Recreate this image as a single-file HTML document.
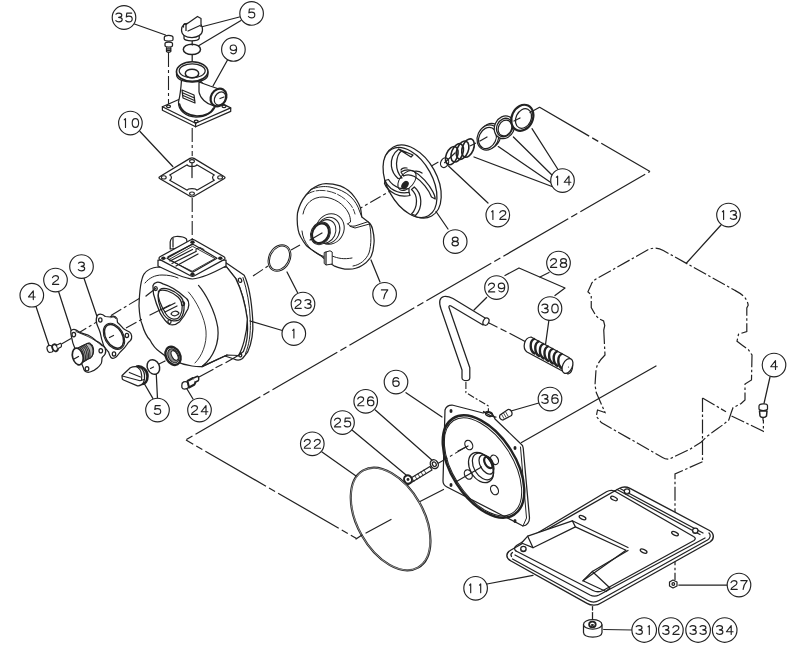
<!DOCTYPE html>
<html><head><meta charset="utf-8"><style>
html,body{margin:0;padding:0;background:#fff;width:800px;height:650px;overflow:hidden;font-family:"Liberation Sans",sans-serif}
svg{display:block}
.s{fill:none;stroke:#222;stroke-width:1.25;stroke-linejoin:round;stroke-linecap:round}
.w{fill:#fff;stroke:#222;stroke-width:1.25;stroke-linejoin:round}
.k{fill:#222;stroke:none}
.dd2{fill:none;stroke:#222;stroke-width:1.1;stroke-dasharray:14 3 3 3}
.dd3{fill:none;stroke:#222;stroke-width:1.1;stroke-dasharray:12 3 3 3}
.dd4{fill:none;stroke:#222;stroke-width:1.2;stroke-dasharray:14 2.5 2.5 2.5}
.dd5{fill:none;stroke:#222;stroke-width:1.1;stroke-dasharray:7 2 2 2}
.dd{fill:none;stroke:#222;stroke-width:1.1;stroke-dasharray:66 4 7 4}
.dg{fill:none;stroke:#222;stroke-width:1.15;vector-effect:non-scaling-stroke;stroke-linecap:round;stroke-linejoin:round}
.c{fill:#fff;stroke:#222;stroke-width:1.15}
</style></head><body>
<svg width="800" height="650" viewBox="0 0 800 650">
<path d="M134.5,24 L165.5,35" class="s"/>
<path d="M239.4,17 L201,27" class="s"/>
<path d="M241,20.5 L199,45.5" class="s"/>
<path d="M227.5,60 L213,86" class="s"/>
<path d="M140,131.5 L172.8,166.5" class="s"/>
<path d="M168.5,53 L168.5,104" class="dd2"/>
<path d="M192.2,41 L192.2,45" class="s"/>
<path d="M192.2,55 L192.2,62" class="s"/>
<path d="M192.2,128 L192.2,156" class="dd2"/>
<path d="M192.2,198 L192.2,240" class="dd2"/>
<path d="M164.3,37.5 C164.3,34.5 173,34.5 173,37.5 L173,39.5 C173,41.5 164.3,41.5 164.3,39.5 Z" class="w" />
<path d="M165,43.5 C165,41.5 172.5,41.5 172.5,43.5 L172.5,45.5 C172.5,47.5 165,47.5 165,45.5 Z" class="w" />
<path d="M166.5,47.5 L166.5,51.5 Q168.6,53 170.8,51.5 L170.8,47.5" class="s" />
<path d="M166.8,48.8 L170.6,48.8" class="s"/>
<path d="M166.8,50.3 L170.6,50.3" class="s"/>
<path d="M184,35 L184,38.5 C185,41.5 198,41.5 199.2,38.5 L199.2,35" class="w" />
<path d="M181.5,30 C181.5,24.5 186,23 190,23 L197,23 C201,23 202.5,26 202.5,30 C202.5,35 197,37.5 192,37.5 C186,37.5 181.5,35 181.5,30 Z" class="w" />
<path d="M186,31 L186,24.5 L197.5,16.5 L201,18.5 L201,27" class="w" />
<path d="M186,24.5 C185,22.5 183,24 183.5,27" class="s" />
<path d="M188,31 L200,25.5" class="s"/>
<path d="M191.9,44.2 m-8.6,5.2 a8.6,5.2 0 1,0 17.2,0 a8.6,5.2 0 1,0 -17.2,0" class="s" style="stroke-width:1.5"/>
<path d="M162.4,106.7 L195.6,123.3 L230.7,107.9 L197.5,91.3 Z" class="w" />
<path d="M162.4,106.7 L162.4,110.2 L195.6,126.8 L230.7,111.4 L230.7,107.9" class="s" />
<path d="M195.6,123.3 L195.6,126.8" class="s"/>
<ellipse cx="168.5" cy="106.3" rx="2" ry="1.3" class="s"/>
<ellipse cx="196.2" cy="121.3" rx="2" ry="1.3" class="s"/>
<ellipse cx="224" cy="106.3" rx="2" ry="1.3" class="s"/>
<path d="M181.5,80 C181,88 180,96 178.5,102 C178,110 186,117 196,117 C206,117 213,112 215,107 L214,96 L199.5,80 Z" class="w" />
<path d="M179.5,104 C181,112 190,116 197,116 C205,116 211,113 213.5,108" class="s" style="stroke-width:1.6"/>
<path d="M199,82 L210,86 L222,90 L214,106 C206,104 200,98 199,92 Z" class="w" />
<ellipse cx="218.5" cy="97.5" rx="7.5" ry="9.2" transform="rotate(30 218.5 97.5)" class="w" style="stroke-width:2.2"/>
<ellipse cx="220" cy="98.5" rx="5.2" ry="7" transform="rotate(30 220 98.5)" class="w"/>
<path d="M220,98.5 L224,97" class="s"/>
<path d="M182,90 L194,95 L195,103 L183,98 Z" class="w" />
<path d="M183,93 L194.5,98" class="s"/>
<path d="M183,95.5 L194.5,100.5" class="s"/>
<path d="M176.5,71.6 L176.5,74.5 C176.5,80 185,82 192.2,82 C199,82 207.9,80 207.9,74.5 L207.9,71.6" class="w" />
<ellipse cx="192.2" cy="71.6" rx="15.7" ry="9.8" class="w" style="stroke-width:1.6"/>
<ellipse cx="192.2" cy="70.8" rx="13" ry="7" class="s"/>
<ellipse cx="192" cy="73.5" rx="6.7" ry="4.3" class="s" style="stroke-width:1.5"/>
<path d="M160,176.5 L190,158.4 Q192,157.2 194,158.4 L224,176.5 Q226,177.6 224,178.7 L194,196.2 Q192,197.4 190,196.2 L160,178.7 Q158,177.6 160,176.5 Z" class="w" style="stroke-width:1.3"/>
<path d="M169.7,175 L187.2,164.8 C188,167 196,167 196.8,164.8 L214.3,175 C212,176 212,179 214.3,180.3 L196.8,190.2 C196,188 188,188 187.2,190.2 L169.7,180.3 C172,179 172,176 169.7,175 Z" class="s" style="stroke-width:1.2"/>
<ellipse cx="163.8" cy="177.4" rx="2.4" ry="1.6" class="s" style="stroke-width:1.1"/>
<ellipse cx="192" cy="161.2" rx="2.4" ry="1.6" class="s" style="stroke-width:1.1"/>
<ellipse cx="220.1" cy="177.4" rx="2.4" ry="1.6" class="s" style="stroke-width:1.1"/>
<ellipse cx="192" cy="193.6" rx="2.4" ry="1.6" class="s" style="stroke-width:1.1"/>
<path d="M192,163 L192,177.5" class="s"/>
<path d="M225.6,262.5 L244.2,275.2 C248,283 251.5,300 252.7,319.2 C253.5,332 251,345 247.6,352.2 L242.5,358.5 C240,360.5 237,360.5 234,359 L222,355 Z" class="w" />
<path d="M243,277.5 C247,290 249.8,305 250.3,320 C250.8,335 249,345 245.5,353.5" class="s" style="stroke-width:1"/>
<path d="M226.5,266.8 L235.8,278.6 C240,287 245,302 247.3,319.2 C248.3,333 246.5,345 243.4,351.4 L238.5,355.5" class="s" />
<ellipse cx="240" cy="280.3" rx="1.6" ry="2.2" transform="rotate(-20 240 280.3)" class="s"/>
<ellipse cx="240" cy="354.8" rx="1.6" ry="2.2" transform="rotate(-20 240 354.8)" class="s"/>
<path d="M158,267 C152,267.5 147,270 144,274 C141,279 139.5,290 139,306 C139.5,315 140,320 142,324 C144,331 146,336 150,340 C153,346 157,350 160,352 C168,359 180,364 192,366 C197,366.8 200,366.8 202,366.6 L227,355 L238.5,355.5 C242,350 247,335 247.3,319.2 C245,302 240,287 235.8,278.6 L226.5,266.8 Z" class="w" />
<path d="M198.5,285.4 C205,293 215,310 217.8,327.7 C219.5,342 214,357 202,366.6" class="s" />
<path d="M188.4,292 C196,300 205,318 206,331 C207,344 202,356 195,363" class="s" style="stroke-width:0.9"/>
<path d="M145,283 C149,278 155,275 162,275 C168,275 174,276 178,278" class="s" style="stroke-width:1"/>
<path d="M202,366.6 L227,355" class="s"/>
<path d="M170.2,249 L170.2,242 C170.5,238.5 173,236.8 176,236.5 C180,236.3 184,237 186.5,239 L188,247 Z" class="w" />
<path d="M173,238.5 L173,247" class="s"/>
<path d="M158,260 L158,266 C170,272 182,278 192.5,279 C203,278 215,272 226,266 L226,260 Z" class="w" />
<path d="M160,256.8 L190.5,240 Q192.5,239 194.5,240 L224,256.8 Q226,258.2 224,259.6 L194.5,275.8 Q192.5,276.8 190.5,275.8 L160,259.6 Q158,258.2 160,256.8 Z" class="w" />
<path d="M167,258.2 L191,244.8 Q192.5,243.8 194,244.8 L217,258.2 L194,271.5 Q192.5,272.5 191,271.5 Z" class="s" />
<path d="M169,259.5 L192.5,246.3 L215,258.5 L192.5,271 Z" class="s" style="stroke-width:0.9"/>
<path d="M168,256.7 L192,244.5" class="s"/>
<path d="M170,261 L192.5,249.5" class="s"/>
<path d="M172,263.5 L196,251.5" class="s"/>
<path d="M176,266 L198,254" class="s"/>
<path d="M196,251.5 L196,249 L200,247.5 L204,249.5" class="s" style="stroke-width:1"/>
<ellipse cx="163.4" cy="258.2" rx="2.2" ry="1.7" class="k"/>
<ellipse cx="192.5" cy="242.3" rx="2.2" ry="1.7" class="k"/>
<ellipse cx="220.3" cy="258.2" rx="2.2" ry="1.7" class="k"/>
<ellipse cx="192.5" cy="274.2" rx="2.2" ry="1.7" class="k"/>
<path d="M152.9,285.7 C154,282 158.5,281 163,283.9 C170,286 178,291 184.3,296.8 C188,299 190,303 188,308.8 C186,313 184,317 179.7,321.7 C177,324 174,326 169.5,324.5 C166,322 163,318 160.3,313.4 C157,306 155,300 153.5,294 Z" class="w" />
<path d="M158.5,291.2 C163,288 172,292 178,297 C183,302 183.5,310 180,316 C177,321 170,320 166,314 C161,306 157,298 158.5,291.2 Z" class="s" />
<path d="M160,289.5 C164,286.5 174,290 180,296 C185,301 185.5,311 181,318 C178,322.5 169,322 164,315 C159,307 156,296 160,289.5 Z" class="s" />
<ellipse cx="155.7" cy="288.5" rx="1.6" ry="2" class="s"/>
<ellipse cx="183" cy="303.7" rx="1.6" ry="2" class="s"/>
<ellipse cx="169.5" cy="321.5" rx="1.6" ry="2" class="s"/>
<path d="M163,309 L175,303 M165,312 L177,306" class="s" />
<path d="M171,314 C172,311 177,310 179,313 C178,316 173,317 171,314 Z" class="s" />
<ellipse cx="173" cy="355.8" rx="7" ry="9.6" transform="rotate(-28 173 355.8)" class="w" style="stroke-width:2.4"/>
<ellipse cx="173.3" cy="355.8" rx="5" ry="7.4" transform="rotate(-28 173.3 355.8)" style="fill:#8a8a8a;stroke:#222;stroke-width:1"/>
<ellipse cx="174.6" cy="355.5" rx="2.8" ry="5.2" transform="rotate(-28 174.6 355.5)" class="w" style="stroke-width:1"/>
<path d="M36,306.5 L49,345.5" class="s"/>
<path d="M58.8,292.3 L72,333" class="s"/>
<path d="M84,278.3 L97,316.5" class="s"/>
<path d="M61.5,344 L71,338.5" class="dd3"/>
<path d="M76,334.5 L100,320" class="dd3"/>
<path d="M111,315.5 L140,298" class="dd3"/>
<path d="M126,328 L144,318" class="dd3"/>
<path d="M150,315 L170,305" class="s"/>
<path d="M146,296 L155.7,288.5" class="s"/>
<path d="M97,316.3 C98,313.5 102,313.5 105.3,316.5 L110,317 C111.5,315.5 115,315.5 117,318.5 L117.5,322.5 C119.5,324 121.5,326.5 123.6,328.8 C126,330.5 127.5,331 129.5,332 C132,334 132.5,338 130.5,340.5 C128.5,342 127.5,343 126.9,344.5 C125.5,347 123,349.5 121,351.2 C119,353 118,355.5 116,357 C114,358.5 112,358.5 111,357.5 C109.5,355.5 109,353.5 108.6,352 C106.5,349.5 104.5,347.5 103.6,345.4 C102,341 101,337 100.3,333 C99.5,330 98,327 97,324.6 C96,321.5 96,318.5 97,316.3 Z" class="w" />
<ellipse cx="114" cy="336.3" rx="9.4" ry="14" transform="rotate(-30 114 336.3)" class="s" style="stroke-width:1.1"/>
<ellipse cx="114" cy="336.3" rx="8.2" ry="12.8" transform="rotate(-30 114 336.3)" class="s" style="stroke-width:1.5"/>
<ellipse cx="100.3" cy="320" rx="1.7" ry="2.1" class="s"/>
<ellipse cx="126.9" cy="335.4" rx="1.7" ry="2.1" class="s"/>
<ellipse cx="114" cy="354" rx="1.7" ry="2.1" class="s"/>
<path d="M111,317.5 C112,316.5 114.5,316.5 115.5,318.5" class="s" style="stroke-width:1"/>
<path d="M109.5,337.5 L113.5,335.5" class="s"/>
<path d="M70.8,331.2 C72,329.5 73.5,329.2 75,329.6 C77.5,330.5 79,332 80.4,332.7 C83,333.8 86,334.5 88,335 C91,336.5 93.5,338.5 95.8,340.4 C98,342 100,343 101.2,344.2 C103,345.5 104.5,347 105,348 C106,350.5 106,352.5 105,354.2 C104,356 102.5,356.5 102,358 C101.8,360 102,362 101.2,363.5 C100,365.5 98.5,367 97.3,368 C95.5,369.5 93.5,370.8 92,371.2 C90,372.2 88,372.5 86.5,372 C84.5,371 83.5,369.5 83.5,368 L74.2,346.5 C73,344 72.5,342 72.2,340 C71.5,337 70.5,334 70.8,331.2 Z" class="w" />
<path d="M76,331.5 C80,333 84,335 88,336.5 C93,339 98,342 102,346" class="s" style="stroke-width:0.9"/>
<ellipse cx="73.8" cy="334.6" rx="1.8" ry="2.2" class="s"/>
<ellipse cx="100.8" cy="350.8" rx="1.8" ry="2.2" class="s"/>
<ellipse cx="87" cy="368.8" rx="1.8" ry="2.2" class="s"/>
<path d="M77.8,348 L87.7,343.3 C91,343.5 93.2,347 93.2,351 C93.2,355.5 91,358.6 88,358.8 L78,365 Z" class="w" style="fill:#bbb"/>
<path d="M80,347 L89,342.8 C92.5,343.5 94,348 93.5,352 C93,356 91,358.5 88.5,359 L80,364" class="s" style="stroke-width:1"/>
<path d="M79.5,347.5 C82,349 84.5,354 84,360.5 M81,346.8 C83.5,348.5 86,353.5 85.5,360 M82.5,346 C85,347.8 87.5,352.5 87,359.3 M84,345.3 C86.5,347 89,351.5 88.5,358.5 M85.5,344.6 C88,346.3 90.5,350.5 90,357.8" class="s" style="stroke-width:1.1;stroke:#333"/>
<ellipse cx="77.8" cy="356.5" rx="5.2" ry="8.5" transform="rotate(-15 77.8 356.5)" class="w" style="stroke-width:1.7"/>
<path d="M74,359 L78.5,356.5" class="s"/>
<path d="M47,348.5 C46.5,346.5 48.5,345 50.5,345.5 L52.5,346.5 C53.5,348.5 53.5,351 52,352 L49.5,352.5 C48,352 47.3,350.5 47,348.5 Z" class="w" />
<ellipse cx="55" cy="347.8" rx="2.6" ry="3.6" transform="rotate(-25 55 347.8)" class="w" style="stroke-width:1.8"/>
<path d="M57,345 L60.5,343.3 C61.5,343.8 61.8,346 61,347 L57.8,348.8" class="w" style="stroke-width:1.2"/>
<path d="M153,398.6 L144.5,384" class="s"/>
<path d="M157.5,398.6 L156.3,374.5" class="s"/>
<path d="M193,399 L187,389" class="s"/>
<ellipse cx="153.4" cy="367" rx="6" ry="7.6" transform="rotate(-25 153.4 367)" class="s" style="stroke-width:1.5"/>
<path d="M150.5,368.5 L153.5,367" class="s"/>
<path d="M159,364 L165,361" class="s"/>
<path d="M137,366.5 C142,365.5 147.5,370 147.5,376 C147.5,381 145,384 142,384 Z" class="w" style="stroke-width:2.6"/>
<path d="M122.1,375.5 L130.3,367.8 C133,366.5 137,366.5 140,367.5 C143.5,369.5 145,374 144.5,379 L143.5,382.7 C142,385 139.5,386 137.5,385.8 L123.5,380 C122.3,379.5 122,378.5 122.1,377.5 Z" class="w" />
<path d="M122.3,376 L140,380.8 L144.2,379.5 M129.3,372.4 L140.5,377 M137,366.8 C141,369.5 142.5,374 141.5,380.5" class="s" style="stroke-width:1.1"/>
<path d="M181.8,385.5 C181.5,382 185,380.5 188,382.5 L188.7,386.5 C188.3,389.3 183,390 181.9,387.5 Z" class="w" />
<path d="M187.5,381 L193,378 C195.5,378 196,382.5 194.5,384.5 L189,387.5 Z" class="w" style="stroke-width:2"/>
<path d="M193.5,378 L197.5,376.3 C199,376.5 199,380 198.2,380.8 L194.5,382.5" class="w" style="stroke-width:1.5"/>
<path d="M199,377 L213,369.5" class="s"/>
<path d="M216,367.5 L222,364.5" class="s"/>
<path d="M226,362.5 L240,354.5" class="s"/>
<path d="M253,276 L268,266" class="dd3"/>
<path d="M291,250 L300,245" class="dd3"/>
<path d="M352,213 L392,190" class="dd3"/>
<path d="M428,168 L440,161" class="dd3"/>
<path d="M470,146 L476,143" class="dd3"/>
<ellipse cx="279.5" cy="258" rx="10.6" ry="14" transform="rotate(28 279.5 258)" class="s" style="stroke-width:1"/>
<ellipse cx="279.5" cy="258" rx="9.2" ry="12.6" transform="rotate(28 279.5 258)" class="s" style="stroke-width:1"/>
<path d="M287,272 L297.5,292.5" class="s"/>
<path d="M311,189.5 C317,185 322,183.5 326,183.5 C331,183.5 336,184.5 340.2,185.8 C347,188.5 352,193 354.9,197.5 C358,202 360,206 360.7,209.2 L361.8,217 L368,221.7 C371,224 372,226 372.5,229 C374,235 374.5,240 373.9,244 C373.5,250 372.5,254 370.5,257.5 C368,261 366,263.5 362,265.5 C358,268 354,269.2 349,269.2 C343,269.5 338,267.5 334,265.8 C330,263.5 326,260 321.2,256 C315,252 310,249 306.6,245.8 C302,240 299,235 298.2,230 C297,224 297,218 297.5,213 C299,206 302,200 306,195 Z" class="w" />
<path d="M311,189.5 C318,186.5 324,186 330,187 C338,188.5 346,192 351,197 C355,201 358,206 359.5,211 L361.8,217" class="s" style="stroke-width:1"/>
<path d="M306,195 C311,191.5 317,190 323,190.5 C333,191 343,196 349,203 C352,206 354,210 355,214" class="s" style="stroke-width:0.9" stroke-dasharray="9 2"/>
<path d="M303,214 C305,203 313,197 323,197 C334,197.5 344,204 348.5,213 C350,216 350.5,219 350.5,222 L347.6,223.9" class="s" style="stroke-width:1"/>
<path d="M302,231 C303,243 312,253 324,256.5" class="s" style="stroke-width:1"/>
<path d="M347.6,223.9 C349,226 352,226.5 355,226 L368,221.7 M350,226.3 L355,228 L369.5,224" class="s" style="stroke-width:1"/>
<path d="M369.5,224 C371.5,233 371.5,245 369,253 C366,260 360,265 353,266" class="s" style="stroke-width:1"/>
<path d="M332.2,256 C338,258.5 344,259.5 352,258" class="s" style="stroke-width:1"/>
<path d="M324.2,252.5 L330,250.8 L332.2,252 L332.2,264 L326,265 L324.2,263.5 Z" class="w" style="stroke-width:1"/>
<path d="M326,252 L326,264.5" class="s"/>
<ellipse cx="330" cy="229" rx="13.9" ry="15.6" transform="rotate(25 330 229)" class="s" style="stroke-width:1"/>
<ellipse cx="328" cy="230.5" rx="11.5" ry="13.5" transform="rotate(25 328 230.5)" class="s" style="stroke-width:1"/>
<ellipse cx="325.5" cy="231.5" rx="10" ry="12.2" transform="rotate(25 325.5 231.5)" class="w" style="stroke-width:1"/>
<ellipse cx="320.5" cy="233.3" rx="9.5" ry="11.7" transform="rotate(25 320.5 233.3)" class="w" style="stroke-width:1"/>
<ellipse cx="320.5" cy="233.3" rx="8.1" ry="10.2" transform="rotate(25 320.5 233.3)" class="s" style="stroke-width:2.2"/>
<path d="M310,240 L322,233" class="s"/>
<path d="M371,260 L380,282" class="s"/>
<path d="M250,321 L282.3,330.5" class="s"/>
<ellipse cx="412.5" cy="181.5" rx="39.5" ry="24.5" transform="rotate(61 412.5 181.5)" class="w"/>
<ellipse cx="410" cy="182.5" rx="38" ry="22.5" transform="rotate(61 410 182.5)" class="w"/>
<path d="M398.6,149.2 C393,153 390.5,160 391.4,166.2 C392,171 394,175 398,178.5 L402,178 C398,174 396.5,169 396.5,163.5 C397,157 399,152.5 401.5,151 Z" class="w" />
<path d="M398.6,149.2 L413,155 L411,157 L401.5,151" class="s" />
<path d="M401,172 C405,169.5 410,169.5 414,171.5 C421,175 429,184 433,192 C434.5,195 435.3,197.5 435.2,199 L431.5,197 C429,190 422,181 414.5,176.5 C410.5,174.5 406.5,174.5 403.5,176 Z" class="w" />
<path d="M409,192.4 C403,193.5 396,192 391,188.5 C388,186 386,183.5 385,180.5 L388.5,179.5 C390.5,183 394.5,186 398.5,187.8 C402.5,189 406,189 409,188.5 Z" class="w" />
<path d="M385,180.5 L384.5,183.5 C386,187.5 390,191.5 395,194 C400,196.5 406,196.5 410,195.5 L409,192.4" class="s" />
<path d="M414.3,187 C418,190 420.5,195 420.8,201 C421,207 419,212 415.5,215.5 L411.5,214 C414.5,211 416.5,206.5 416.5,201 C416.5,196 414.5,192 411.5,189.5 Z" class="w" />
<path d="M414,171.4 C417,171 420,171.5 422,173 M401,170 C401.5,168.5 404,167.5 407,168" class="s" />
<ellipse cx="407" cy="180.5" rx="7" ry="11.5" transform="rotate(40 407 180.5)" class="s" style="stroke-width:1"/>
<ellipse cx="405" cy="185" rx="3.2" ry="4.6" transform="rotate(35 405 185)" class="k"/>
<path d="M436,211.5 L448,229" class="s"/>
<ellipse cx="444.6" cy="162.7" rx="3.8" ry="5" transform="rotate(25 444.6 162.7)" class="s" style="stroke-width:1.2"/>
<ellipse cx="451.8" cy="155.6" rx="5.6" ry="9.6" transform="rotate(22 451.8 155.6)" class="s" style="stroke-width:1.6"/>
<ellipse cx="457.2" cy="152.8" rx="5.6" ry="9.6" transform="rotate(22 457.2 152.8)" class="s" style="stroke-width:1.6"/>
<ellipse cx="462.6" cy="150.2" rx="5.6" ry="9.6" transform="rotate(22 462.6 150.2)" class="s" style="stroke-width:1.6"/>
<ellipse cx="468" cy="148" rx="5.6" ry="9.6" transform="rotate(22 468 148)" class="s" style="stroke-width:1.6"/>
<path d="M448.5,166 L488,203" class="s"/>
<ellipse cx="490" cy="136" rx="10.5" ry="13" transform="rotate(25 490 136)" class="w" style="stroke-width:1.2"/>
<ellipse cx="488" cy="137.5" rx="10.5" ry="13" transform="rotate(25 488 137.5)" class="w" style="stroke-width:1.2"/>
<ellipse cx="487.5" cy="138" rx="8.5" ry="11" transform="rotate(25 487.5 138)" class="s"/>
<path d="M480,141 L487,137" class="s" />
<ellipse cx="504.4" cy="127.3" rx="9.8" ry="11.7" transform="rotate(25 504.4 127.3)" class="w" style="stroke-width:1.2"/>
<ellipse cx="504.6" cy="127.5" rx="7.8" ry="9.5" transform="rotate(25 504.6 127.5)" class="s"/>
<ellipse cx="505" cy="128" rx="6.5" ry="8.2" transform="rotate(25 505 128)" class="s"/>
<ellipse cx="522.3" cy="117.8" rx="10.5" ry="13.5" transform="rotate(25 522.3 117.8)" class="w" style="stroke-width:2.2"/>
<ellipse cx="523.5" cy="118.5" rx="7.5" ry="10.2" transform="rotate(25 523.5 118.5)" class="s"/>
<path d="M514,121 L520,118" class="s"/>
<path d="M474,157 L552,186.5" class="s"/>
<path d="M498.3,146.6 L553,184" class="s"/>
<path d="M513.4,137 L555,178" class="s"/>
<path d="M532,128.7 L558,169.5" class="s"/>
<path d="M455,153 L444.6,162.7" class="s"/>
<path d="M505,275.5 L519,268 L565,288 L555,295.5" class="s"/>
<path d="M549,272.5 L540,277" class="s"/>
<path d="M486.6,297.5 L474,310" class="s"/>
<path d="M549,319.5 L545.5,344.5" class="s"/>
<path d="M462,378 L462,370 L441,309 C438.5,302 439.5,297.5 444,296.5 C447,296 450,297 453,298.5 L485.5,318.3 L483,325 L451,306 C449.5,305.2 448.5,306 449,307.5 L469.8,367.8 L469.8,378 C469.5,381.5 462.5,381.5 462,378 Z" class="w" />
<ellipse cx="486" cy="321.6" rx="2.8" ry="3.8" transform="rotate(25 486 321.6)" class="w"/>
<path d="M489,323 L497,327" class="s"/>
<path d="M501,329 L506,331.5" class="s"/>
<path d="M510,333.5 L527,342.5" class="s"/>
<path d="M531,337 L569,357.5 C574,361 574,372 568,374 L527,352 C522,348 524,338 531,337 Z" class="w" />
<path d="M534.0,339.0 C529.5,341.0 529.5,350.5 534.5,353.5" class="s" style="stroke-width:2.4"/>
<path d="M538.6,341.5 C534.1,343.5 534.1,353.0 539.1,356.0" class="s" style="stroke-width:2.4"/>
<path d="M543.2,344.0 C538.7,346.0 538.7,355.5 543.7,358.5" class="s" style="stroke-width:2.4"/>
<path d="M547.8,346.5 C543.3,348.5 543.3,358.0 548.3,361.0" class="s" style="stroke-width:2.4"/>
<path d="M552.4,349.0 C547.9,351.0 547.9,360.5 552.9,363.5" class="s" style="stroke-width:2.4"/>
<path d="M557.0,351.5 C552.5,353.5 552.5,363.0 557.5,366.0" class="s" style="stroke-width:2.4"/>
<path d="M561.6,354.0 C557.1,356.0 557.1,365.5 562.1,368.5" class="s" style="stroke-width:2.4"/>
<ellipse cx="567.5" cy="366" rx="4.8" ry="7.8" transform="rotate(25 567.5 366)" class="w"/>
<circle cx="568.5" cy="367" r="0.6" class="k"/>
<path d="M721,225 L686.5,263" class="s"/>
<path d="M603.75,330 L605,355 C600,360 597,364 596,370 L595,385 L596.25,392.5 L605,412.5 L597.5,410 L596.25,416.25 L601.25,422.5 L662.5,457.5 C665,459 668,459.5 670,458.75 L690,449.2 L701,442.3 L706.6,436.8 C715,430 722,426 728.8,420 L731.5,411.8 L733,407.7 L741.2,403.5 L745,400 L745,384 L751.5,380 L752,355 L748.2,349.5 L742.6,345.4 L737,341.2 L738.5,334.3 L746.8,331.5 L746.8,308 L748.2,305.2 C747.5,301 746,299.5 745.4,298.3 C742,294 738,292 734.3,290 L663.3,250.5 C658,247.5 652,247.5 647.5,250 L597,278.5 C594,280 592,282 591,285 L587.9,291.8 L591.25,295 L591.25,307.5 L595.75,315.4 L599,318.75 L603.6,321 L604.75,325.5 Z" class="dd4" />
<path d="M702.5,398 L726,411.8" class="dd4"/>
<path d="M702.5,398 L702.5,461.7" class="dd4"/>
<path d="M731.5,416 L763.4,431.2 L763.4,420" class="dd4"/>
<path d="M702.5,461.7 L675,474 L675,580" class="dd4"/>
<path d="M521.5,442.5 L656,366" class="s"/>
<path d="M770,377 L764,403.5" class="s"/>
<path d="M759,406 C759,403.5 767,403 767.5,405.5 L767.5,409 C767,411 759.5,411 759,409 Z" class="w" />
<path d="M759.5,411 L767,411 L766.5,416 C765,418 761,418 760,416 Z" class="w" style="stroke-width:1.5"/>
<path d="M763,418 L763,420" class="s"/>
<path d="M445,410 C446,406.5 449,405 452,405 L483,413 C486,411 493,412 495,419 L521,444 C522.5,445 523,446 523.2,448 L529.5,518 C529.5,522 527,525.5 523,526 L447,487 C444,485.5 443,484 443,481 Z" class="w" />
<path d="M520.5,447 L526.5,518 L523,526" class="s" style="stroke-width:1"/>
<path d="M483.5,411.5 C487,414 492,417 496,417" class="s" />
<ellipse cx="489" cy="414" rx="3.6" ry="2.3" transform="rotate(20 489 414)" class="s"/>
<ellipse cx="483.5" cy="466.5" rx="32" ry="57" transform="rotate(-32.4 483.5 466.5)" class="s" style="stroke-width:2.4"/>
<ellipse cx="483" cy="466.8" rx="29.8" ry="54.8" transform="rotate(-32.4 483 466.8)" class="s" style="stroke-width:1"/>
<ellipse cx="451" cy="411" rx="1.5" ry="2" class="k"/>
<ellipse cx="515" cy="448" rx="1.5" ry="2" class="k"/>
<ellipse cx="451" cy="485" rx="1.5" ry="2" class="k"/>
<ellipse cx="515" cy="521" rx="1.5" ry="2" class="k"/>
<ellipse cx="468.8" cy="445" rx="3.6" ry="5" transform="rotate(-28 468.8 445)" class="s"/>
<ellipse cx="494.5" cy="459.8" rx="3.6" ry="5" transform="rotate(-28 494.5 459.8)" class="s"/>
<ellipse cx="468.3" cy="474.5" rx="3.6" ry="5" transform="rotate(-28 468.3 474.5)" class="s"/>
<ellipse cx="494.5" cy="490" rx="3.6" ry="5" transform="rotate(-28 494.5 490)" class="s"/>
<ellipse cx="481" cy="467.5" rx="11" ry="16.3" transform="rotate(-30 481 467.5)" class="s"/>
<ellipse cx="483" cy="466.5" rx="9" ry="14.5" transform="rotate(-30 483 466.5)" class="s"/>
<ellipse cx="486.5" cy="464.5" rx="6.2" ry="10.5" transform="rotate(-30 486.5 464.5)" class="s"/>
<ellipse cx="488.5" cy="462.5" rx="3.6" ry="6.2" transform="rotate(-30 488.5 462.5)" class="s" style="stroke-width:2.2"/>
<path d="M456.5,481.5 L481.5,467" class="s"/>
<path d="M458,451 L468,446" class="s"/>
<path d="M437,464 L466,447" class="dd3"/>
<path d="M538.8,403 L511,411" class="s"/>
<path d="M500,415 L508,409.5 C511,409 513,413 511.5,415.5 L503,420 C500,420 499,417 500,415 Z" class="w" />
<path d="M501.5,414.3 L504,418.5 M503.5,413 L506,417.2 M505.5,411.7 L508,416" class="s" style="stroke-width:0.8"/>
<path d="M465.9,382 L465.9,392.6 L488.4,406 L488.4,411.7" class="dd5"/>
<path d="M406,392.7 L442,417" class="s"/>
<path d="M375.3,410 L432.7,460.7" class="s"/>
<path d="M352,430 L408.5,477" class="s"/>
<path d="M406,481 L430,466.5 L432,470 L408,484.5 Z" class="w" />
<path d="M412,478 L414,481.5 M415,476 L417,479.5 M418,474 L420,477.5 M421,472 L423,475.5 M424,470 L426,473.5" class="s" style="stroke-width:0.8"/>
<ellipse cx="408" cy="479.5" rx="3.8" ry="4.3" transform="rotate(-30 408 479.5)" class="w" style="stroke-width:2"/>
<circle cx="408" cy="479.5" r="1.4" class="k"/>
<ellipse cx="434.3" cy="464.2" rx="3.8" ry="4.6" transform="rotate(-30 434.3 464.2)" class="w" style="stroke-width:1.4"/>
<ellipse cx="434.3" cy="464.2" rx="1.8" ry="2.4" transform="rotate(-30 434.3 464.2)" class="s"/>
<ellipse cx="390.6" cy="519" rx="33.2" ry="55.8" transform="rotate(-29.4 390.6 519)" class="s" style="stroke-width:2.2"/>
<ellipse cx="390.6" cy="519" rx="33.2" ry="55.8" transform="rotate(-29.4 390.6 519)" class="s" style="stroke:#fff;stroke-width:0.45"/>
<path d="M322,452 L356,476" class="s"/>
<path d="M420,501.5 L443.5,489.5" class="s"/>
<path d="M356,539 L362,535" class="s"/>
<path d="M366,533 L391,519.5" class="s"/>
<path d="M511,550 L619,488.5 C622.5,486.5 626,486.3 630,488.3 L709.5,530.5 C714.5,533.5 714.5,539 710,542 L601,603 C597,605.8 591,605.8 587,603.3 L511,561 C505.5,558 505.5,553 511,550 Z" class="w" style="stroke-width:1.4"/>
<path d="M511.5,556.5 C510.5,555 511,553.5 512.5,552.5 M512.5,559 L588,600.5 C591.5,602.5 595.5,602.5 599,600.5 L707.5,540 C710.5,538 711,535 709,533" class="s" />
<path d="M515,555 L590,595 C593,596.5 596,596.5 599,595 L705,538" class="s" />
<path d="M516,551 C514,549.5 514,547 516.5,545.5 L606.5,491.8 C609,490.3 612,490 614.5,491" class="s" />
<path d="M614.5,491 L693.5,536.5 C695.5,537.5 696,539 694,540.5 L603,590.5 C600,592 596,592 593,590.5 L516,551" class="s" />
<path d="M617,489.5 L700,534.5" class="s"/>
<path d="M620,488.5 L703,533" class="s"/>
<path d="M521.5,543 L527.7,536.2 L572.3,520.8 L575.4,526.9 L533,547.7 Z" class="w" />
<path d="M527.7,536.2 L533,547.7" class="s"/>
<path d="M575.4,526.9 L626,550.2 L583,580.8" class="s" />
<path d="M572.3,520.8 L628,547.5" class="s"/>
<path d="M583,580.8 L592.3,571.5 L628,550.5 M583,580.8 L606,591.5 L610,588 L592.3,571.5" class="s" />
<ellipse cx="614" cy="498.5" rx="3.6" ry="1.7" transform="rotate(25 614 498.5)" class="s"/>
<ellipse cx="582.5" cy="517.6" rx="3.6" ry="1.7" transform="rotate(25 582.5 517.6)" class="s"/>
<ellipse cx="675" cy="533.6" rx="3.6" ry="1.7" transform="rotate(25 675 533.6)" class="s"/>
<ellipse cx="643.6" cy="551.1" rx="3.6" ry="1.7" transform="rotate(25 643.6 551.1)" class="s"/>
<circle cx="627" cy="491.5" r="2.7" class="w" style="stroke-width:1.2"/>
<path d="M624.5,491.8 C625,494.0 629,494.0 629.5,491.8" class="s" style="stroke-width:0.8"/>
<circle cx="523.4" cy="549" r="2.7" class="w" style="stroke-width:1.2"/>
<path d="M520.9,549.3 C521.4,551.5 525.4,551.5 525.9,549.3" class="s" style="stroke-width:0.8"/>
<circle cx="695.3" cy="530.8" r="2.7" class="w" style="stroke-width:1.2"/>
<path d="M692.8,531.0999999999999 C693.3,533.3 697.3,533.3 697.8,531.0999999999999" class="s" style="stroke-width:0.8"/>
<path d="M487,584 L533,575.4" class="s"/>
<path d="M678.8,585 L727,585" class="s"/>
<path d="M669.5,582 L673,580 L677,582 L677,586 L673,588 L669.5,586 Z" class="w" style="stroke-width:1.2"/>
<circle cx="673.3" cy="584" r="1.3" class="s"/>
<path d="M592.5,606.5 L592.5,610" class="s"/>
<path d="M592.5,612.5 L592.5,619.5" class="s"/>
<path d="M583.5,624.5 L583.5,632.5 C584,638.5 601.5,638.5 602,632.5 L602,624.5" class="w" />
<ellipse cx="592.7" cy="624.4" rx="9.2" ry="4.8" class="w"/>
<ellipse cx="592.4" cy="624.4" rx="3.3" ry="2.7" class="w" style="stroke-width:1.8"/>
<ellipse cx="592.4" cy="625" rx="1.6" ry="1.1" class="k"/>
<path d="M603.75,629.5 L632.5,630" class="s"/>
<path d="M530,112.5 L539.6,107.3" class="s"/>
<path d="M539.6,107.3 L650,171.5" style="fill:none;stroke:#222;stroke-width:1.25;stroke-dasharray:74.90 3.5 7 3.5;stroke-dashoffset:17.55"/>
<path d="M650,171.5 L185.5,440" style="fill:none;stroke:#222;stroke-width:1.25;stroke-dasharray:74.90 3.5 7 3.5;stroke-dashoffset:83.34"/>
<path d="M186,440 L356.5,538.5" style="fill:none;stroke:#222;stroke-width:1.25;stroke-dasharray:70.00 3.5 7 3.5;stroke-dashoffset:61.64"/>
<circle cx="124" cy="17.5" r="11.8" class="c"/>
<path d="M0.5,1.3 C1.1,0.5 2.2,0 3.4,0 C5.2,0 6.3,1 6.3,2.5 C6.3,4 5.1,4.8 3.1,4.8 C5.3,4.8 6.7,5.8 6.7,7.4 C6.7,9.1 5.3,10 3.4,10 C2.1,10 0.9,9.5 0.3,8.6" class="dg" transform="translate(115.50,13.10) scale(1.000,0.880)"/>
<path d="M6.2,0 L1.3,0 L0.8,4.4 C1.5,3.8 2.4,3.5 3.4,3.5 C5.4,3.5 6.7,4.8 6.7,6.7 C6.7,8.7 5.3,10 3.4,10 C2,10 0.9,9.4 0.3,8.5" class="dg" transform="translate(125.50,13.10) scale(1.000,0.880)"/>
<circle cx="251.6" cy="13.4" r="11.8" class="c"/>
<path d="M6.2,0 L1.3,0 L0.8,4.4 C1.5,3.8 2.4,3.5 3.4,3.5 C5.4,3.5 6.7,4.8 6.7,6.7 C6.7,8.7 5.3,10 3.4,10 C2,10 0.9,9.4 0.3,8.5" class="dg" transform="translate(248.10,9.00) scale(1.000,0.880)"/>
<circle cx="233.4" cy="49.4" r="11.8" class="c"/>
<path d="M0.9,8.7 C1.5,9.6 2.4,10 3.4,10 C5.7,10 6.7,7.5 6.7,4.5 C6.7,1.5 5.5,0 3.5,0 C1.6,0 0.3,1.3 0.3,3.2 C0.3,5.1 1.6,6.3 3.4,6.3 C4.9,6.3 6.1,5.5 6.6,4.4" class="dg" transform="translate(229.90,45.00) scale(1.000,0.880)"/>
<circle cx="130.4" cy="123" r="11.8" class="c"/>
<path d="M2.4,1.3 L3.6,0 L3.6,10" class="dg" transform="translate(121.90,118.60) scale(1.000,0.880)"/>
<path d="M3.5,0 C1,0 0.3,2.5 0.3,5 C0.3,7.5 1,10 3.5,10 C6,10 6.7,7.5 6.7,5 C6.7,2.5 6,0 3.5,0 Z" class="dg" transform="translate(131.90,118.60) scale(1.000,0.880)"/>
<circle cx="31.8" cy="295.2" r="11.8" class="c"/>
<path d="M5,10 L5,0 L0.2,7 L6.9,7" class="dg" transform="translate(28.30,290.80) scale(1.000,0.880)"/>
<circle cx="55.5" cy="280" r="11.8" class="c"/>
<path d="M0.5,2.4 C0.9,0.8 2.1,0 3.5,0 C5.3,0 6.5,1.1 6.5,2.7 C6.5,4.4 5.2,5.4 3.2,6.7 C1.6,7.7 0.5,8.7 0.5,10 L6.7,10" class="dg" transform="translate(52.00,275.60) scale(1.000,0.880)"/>
<circle cx="81.5" cy="266.5" r="11.8" class="c"/>
<path d="M0.5,1.3 C1.1,0.5 2.2,0 3.4,0 C5.2,0 6.3,1 6.3,2.5 C6.3,4 5.1,4.8 3.1,4.8 C5.3,4.8 6.7,5.8 6.7,7.4 C6.7,9.1 5.3,10 3.4,10 C2.1,10 0.9,9.5 0.3,8.6" class="dg" transform="translate(78.00,262.10) scale(1.000,0.880)"/>
<circle cx="303" cy="304" r="11.8" class="c"/>
<path d="M0.5,2.4 C0.9,0.8 2.1,0 3.5,0 C5.3,0 6.5,1.1 6.5,2.7 C6.5,4.4 5.2,5.4 3.2,6.7 C1.6,7.7 0.5,8.7 0.5,10 L6.7,10" class="dg" transform="translate(294.50,299.60) scale(1.000,0.880)"/>
<path d="M0.5,1.3 C1.1,0.5 2.2,0 3.4,0 C5.2,0 6.3,1 6.3,2.5 C6.3,4 5.1,4.8 3.1,4.8 C5.3,4.8 6.7,5.8 6.7,7.4 C6.7,9.1 5.3,10 3.4,10 C2.1,10 0.9,9.5 0.3,8.6" class="dg" transform="translate(304.50,299.60) scale(1.000,0.880)"/>
<circle cx="384.6" cy="294.3" r="11.8" class="c"/>
<path d="M0.3,0 L6.7,0 C4.5,2.8 3,6 2.6,10" class="dg" transform="translate(381.10,289.90) scale(1.000,0.880)"/>
<circle cx="293.8" cy="333.6" r="11.8" class="c"/>
<path d="M2.4,1.3 L3.6,0 L3.6,10" class="dg" transform="translate(290.30,329.20) scale(1.000,0.880)"/>
<circle cx="157.5" cy="410" r="11.8" class="c"/>
<path d="M6.2,0 L1.3,0 L0.8,4.4 C1.5,3.8 2.4,3.5 3.4,3.5 C5.4,3.5 6.7,4.8 6.7,6.7 C6.7,8.7 5.3,10 3.4,10 C2,10 0.9,9.4 0.3,8.5" class="dg" transform="translate(154.00,405.60) scale(1.000,0.880)"/>
<circle cx="199.5" cy="410" r="11.8" class="c"/>
<path d="M0.5,2.4 C0.9,0.8 2.1,0 3.5,0 C5.3,0 6.5,1.1 6.5,2.7 C6.5,4.4 5.2,5.4 3.2,6.7 C1.6,7.7 0.5,8.7 0.5,10 L6.7,10" class="dg" transform="translate(191.00,405.60) scale(1.000,0.880)"/>
<path d="M5,10 L5,0 L0.2,7 L6.9,7" class="dg" transform="translate(201.00,405.60) scale(1.000,0.880)"/>
<circle cx="562.5" cy="180.5" r="11.8" class="c"/>
<path d="M2.4,1.3 L3.6,0 L3.6,10" class="dg" transform="translate(554.00,176.10) scale(1.000,0.880)"/>
<path d="M5,10 L5,0 L0.2,7 L6.9,7" class="dg" transform="translate(564.00,176.10) scale(1.000,0.880)"/>
<circle cx="497.8" cy="215" r="11.8" class="c"/>
<path d="M2.4,1.3 L3.6,0 L3.6,10" class="dg" transform="translate(489.30,210.60) scale(1.000,0.880)"/>
<path d="M0.5,2.4 C0.9,0.8 2.1,0 3.5,0 C5.3,0 6.5,1.1 6.5,2.7 C6.5,4.4 5.2,5.4 3.2,6.7 C1.6,7.7 0.5,8.7 0.5,10 L6.7,10" class="dg" transform="translate(499.30,210.60) scale(1.000,0.880)"/>
<circle cx="455.2" cy="241.5" r="11.8" class="c"/>
<path d="M3.5,4.8 C1.6,4.8 0.6,3.8 0.6,2.4 C0.6,1 1.8,0 3.5,0 C5.2,0 6.4,1 6.4,2.4 C6.4,3.8 5.4,4.8 3.5,4.8 C1.5,4.8 0.3,5.9 0.3,7.4 C0.3,9 1.6,10 3.5,10 C5.4,10 6.7,9 6.7,7.4 C6.7,5.9 5.5,4.8 3.5,4.8 Z" class="dg" transform="translate(451.70,237.10) scale(1.000,0.880)"/>
<circle cx="728.5" cy="215" r="11.8" class="c"/>
<path d="M2.4,1.3 L3.6,0 L3.6,10" class="dg" transform="translate(720.00,210.60) scale(1.000,0.880)"/>
<path d="M0.5,1.3 C1.1,0.5 2.2,0 3.4,0 C5.2,0 6.3,1 6.3,2.5 C6.3,4 5.1,4.8 3.1,4.8 C5.3,4.8 6.7,5.8 6.7,7.4 C6.7,9.1 5.3,10 3.4,10 C2.1,10 0.9,9.5 0.3,8.6" class="dg" transform="translate(730.00,210.60) scale(1.000,0.880)"/>
<circle cx="558.5" cy="263" r="11.8" class="c"/>
<path d="M0.5,2.4 C0.9,0.8 2.1,0 3.5,0 C5.3,0 6.5,1.1 6.5,2.7 C6.5,4.4 5.2,5.4 3.2,6.7 C1.6,7.7 0.5,8.7 0.5,10 L6.7,10" class="dg" transform="translate(550.00,258.60) scale(1.000,0.880)"/>
<path d="M3.5,4.8 C1.6,4.8 0.6,3.8 0.6,2.4 C0.6,1 1.8,0 3.5,0 C5.2,0 6.4,1 6.4,2.4 C6.4,3.8 5.4,4.8 3.5,4.8 C1.5,4.8 0.3,5.9 0.3,7.4 C0.3,9 1.6,10 3.5,10 C5.4,10 6.7,9 6.7,7.4 C6.7,5.9 5.5,4.8 3.5,4.8 Z" class="dg" transform="translate(560.00,258.60) scale(1.000,0.880)"/>
<circle cx="496.5" cy="287.5" r="11.8" class="c"/>
<path d="M0.5,2.4 C0.9,0.8 2.1,0 3.5,0 C5.3,0 6.5,1.1 6.5,2.7 C6.5,4.4 5.2,5.4 3.2,6.7 C1.6,7.7 0.5,8.7 0.5,10 L6.7,10" class="dg" transform="translate(488.00,283.10) scale(1.000,0.880)"/>
<path d="M0.9,8.7 C1.5,9.6 2.4,10 3.4,10 C5.7,10 6.7,7.5 6.7,4.5 C6.7,1.5 5.5,0 3.5,0 C1.6,0 0.3,1.3 0.3,3.2 C0.3,5.1 1.6,6.3 3.4,6.3 C4.9,6.3 6.1,5.5 6.6,4.4" class="dg" transform="translate(498.00,283.10) scale(1.000,0.880)"/>
<circle cx="550" cy="308.5" r="11.8" class="c"/>
<path d="M0.5,1.3 C1.1,0.5 2.2,0 3.4,0 C5.2,0 6.3,1 6.3,2.5 C6.3,4 5.1,4.8 3.1,4.8 C5.3,4.8 6.7,5.8 6.7,7.4 C6.7,9.1 5.3,10 3.4,10 C2.1,10 0.9,9.5 0.3,8.6" class="dg" transform="translate(541.50,304.10) scale(1.000,0.880)"/>
<path d="M3.5,0 C1,0 0.3,2.5 0.3,5 C0.3,7.5 1,10 3.5,10 C6,10 6.7,7.5 6.7,5 C6.7,2.5 6,0 3.5,0 Z" class="dg" transform="translate(551.50,304.10) scale(1.000,0.880)"/>
<circle cx="396" cy="382" r="11.8" class="c"/>
<path d="M6.1,1.3 C5.5,0.4 4.6,0 3.6,0 C1.3,0 0.3,2.5 0.3,5.5 C0.3,8.5 1.5,10 3.5,10 C5.4,10 6.7,8.7 6.7,6.8 C6.7,4.9 5.4,3.7 3.6,3.7 C2.1,3.7 0.9,4.5 0.4,5.6" class="dg" transform="translate(392.50,377.60) scale(1.000,0.880)"/>
<circle cx="550" cy="399" r="11.8" class="c"/>
<path d="M0.5,1.3 C1.1,0.5 2.2,0 3.4,0 C5.2,0 6.3,1 6.3,2.5 C6.3,4 5.1,4.8 3.1,4.8 C5.3,4.8 6.7,5.8 6.7,7.4 C6.7,9.1 5.3,10 3.4,10 C2.1,10 0.9,9.5 0.3,8.6" class="dg" transform="translate(541.50,394.60) scale(1.000,0.880)"/>
<path d="M6.1,1.3 C5.5,0.4 4.6,0 3.6,0 C1.3,0 0.3,2.5 0.3,5.5 C0.3,8.5 1.5,10 3.5,10 C5.4,10 6.7,8.7 6.7,6.8 C6.7,4.9 5.4,3.7 3.6,3.7 C2.1,3.7 0.9,4.5 0.4,5.6" class="dg" transform="translate(551.50,394.60) scale(1.000,0.880)"/>
<circle cx="365.7" cy="401.3" r="11.8" class="c"/>
<path d="M0.5,2.4 C0.9,0.8 2.1,0 3.5,0 C5.3,0 6.5,1.1 6.5,2.7 C6.5,4.4 5.2,5.4 3.2,6.7 C1.6,7.7 0.5,8.7 0.5,10 L6.7,10" class="dg" transform="translate(357.20,396.90) scale(1.000,0.880)"/>
<path d="M6.1,1.3 C5.5,0.4 4.6,0 3.6,0 C1.3,0 0.3,2.5 0.3,5.5 C0.3,8.5 1.5,10 3.5,10 C5.4,10 6.7,8.7 6.7,6.8 C6.7,4.9 5.4,3.7 3.6,3.7 C2.1,3.7 0.9,4.5 0.4,5.6" class="dg" transform="translate(367.20,396.90) scale(1.000,0.880)"/>
<circle cx="342.5" cy="422.5" r="11.8" class="c"/>
<path d="M0.5,2.4 C0.9,0.8 2.1,0 3.5,0 C5.3,0 6.5,1.1 6.5,2.7 C6.5,4.4 5.2,5.4 3.2,6.7 C1.6,7.7 0.5,8.7 0.5,10 L6.7,10" class="dg" transform="translate(334.00,418.10) scale(1.000,0.880)"/>
<path d="M6.2,0 L1.3,0 L0.8,4.4 C1.5,3.8 2.4,3.5 3.4,3.5 C5.4,3.5 6.7,4.8 6.7,6.7 C6.7,8.7 5.3,10 3.4,10 C2,10 0.9,9.4 0.3,8.5" class="dg" transform="translate(344.00,418.10) scale(1.000,0.880)"/>
<circle cx="312.3" cy="443.8" r="11.8" class="c"/>
<path d="M0.5,2.4 C0.9,0.8 2.1,0 3.5,0 C5.3,0 6.5,1.1 6.5,2.7 C6.5,4.4 5.2,5.4 3.2,6.7 C1.6,7.7 0.5,8.7 0.5,10 L6.7,10" class="dg" transform="translate(303.80,439.40) scale(1.000,0.880)"/>
<path d="M0.5,2.4 C0.9,0.8 2.1,0 3.5,0 C5.3,0 6.5,1.1 6.5,2.7 C6.5,4.4 5.2,5.4 3.2,6.7 C1.6,7.7 0.5,8.7 0.5,10 L6.7,10" class="dg" transform="translate(313.80,439.40) scale(1.000,0.880)"/>
<circle cx="774" cy="365" r="11.8" class="c"/>
<path d="M5,10 L5,0 L0.2,7 L6.9,7" class="dg" transform="translate(770.50,360.60) scale(1.000,0.880)"/>
<circle cx="475.6" cy="588.3" r="11.8" class="c"/>
<path d="M2.4,1.3 L3.6,0 L3.6,10" class="dg" transform="translate(467.10,583.90) scale(1.000,0.880)"/>
<path d="M2.4,1.3 L3.6,0 L3.6,10" class="dg" transform="translate(477.10,583.90) scale(1.000,0.880)"/>
<circle cx="739" cy="585" r="11.8" class="c"/>
<path d="M0.5,2.4 C0.9,0.8 2.1,0 3.5,0 C5.3,0 6.5,1.1 6.5,2.7 C6.5,4.4 5.2,5.4 3.2,6.7 C1.6,7.7 0.5,8.7 0.5,10 L6.7,10" class="dg" transform="translate(730.50,580.60) scale(1.000,0.880)"/>
<path d="M0.3,0 L6.7,0 C4.5,2.8 3,6 2.6,10" class="dg" transform="translate(740.50,580.60) scale(1.000,0.880)"/>
<circle cx="644.2" cy="630" r="12.3" class="c"/>
<path d="M0.5,1.3 C1.1,0.5 2.2,0 3.4,0 C5.2,0 6.3,1 6.3,2.5 C6.3,4 5.1,4.8 3.1,4.8 C5.3,4.8 6.7,5.8 6.7,7.4 C6.7,9.1 5.3,10 3.4,10 C2.1,10 0.9,9.5 0.3,8.6" class="dg" transform="translate(635.70,625.60) scale(1.000,0.880)"/>
<path d="M2.4,1.3 L3.6,0 L3.6,10" class="dg" transform="translate(645.70,625.60) scale(1.000,0.880)"/>
<circle cx="670.9" cy="630" r="12.3" class="c"/>
<path d="M0.5,1.3 C1.1,0.5 2.2,0 3.4,0 C5.2,0 6.3,1 6.3,2.5 C6.3,4 5.1,4.8 3.1,4.8 C5.3,4.8 6.7,5.8 6.7,7.4 C6.7,9.1 5.3,10 3.4,10 C2.1,10 0.9,9.5 0.3,8.6" class="dg" transform="translate(662.40,625.60) scale(1.000,0.880)"/>
<path d="M0.5,2.4 C0.9,0.8 2.1,0 3.5,0 C5.3,0 6.5,1.1 6.5,2.7 C6.5,4.4 5.2,5.4 3.2,6.7 C1.6,7.7 0.5,8.7 0.5,10 L6.7,10" class="dg" transform="translate(672.40,625.60) scale(1.000,0.880)"/>
<circle cx="698.1" cy="630" r="12.3" class="c"/>
<path d="M0.5,1.3 C1.1,0.5 2.2,0 3.4,0 C5.2,0 6.3,1 6.3,2.5 C6.3,4 5.1,4.8 3.1,4.8 C5.3,4.8 6.7,5.8 6.7,7.4 C6.7,9.1 5.3,10 3.4,10 C2.1,10 0.9,9.5 0.3,8.6" class="dg" transform="translate(689.60,625.60) scale(1.000,0.880)"/>
<path d="M0.5,1.3 C1.1,0.5 2.2,0 3.4,0 C5.2,0 6.3,1 6.3,2.5 C6.3,4 5.1,4.8 3.1,4.8 C5.3,4.8 6.7,5.8 6.7,7.4 C6.7,9.1 5.3,10 3.4,10 C2.1,10 0.9,9.5 0.3,8.6" class="dg" transform="translate(699.60,625.60) scale(1.000,0.880)"/>
<circle cx="724.7" cy="630" r="12.3" class="c"/>
<path d="M0.5,1.3 C1.1,0.5 2.2,0 3.4,0 C5.2,0 6.3,1 6.3,2.5 C6.3,4 5.1,4.8 3.1,4.8 C5.3,4.8 6.7,5.8 6.7,7.4 C6.7,9.1 5.3,10 3.4,10 C2.1,10 0.9,9.5 0.3,8.6" class="dg" transform="translate(716.20,625.60) scale(1.000,0.880)"/>
<path d="M5,10 L5,0 L0.2,7 L6.9,7" class="dg" transform="translate(726.20,625.60) scale(1.000,0.880)"/>
</svg></body></html>
